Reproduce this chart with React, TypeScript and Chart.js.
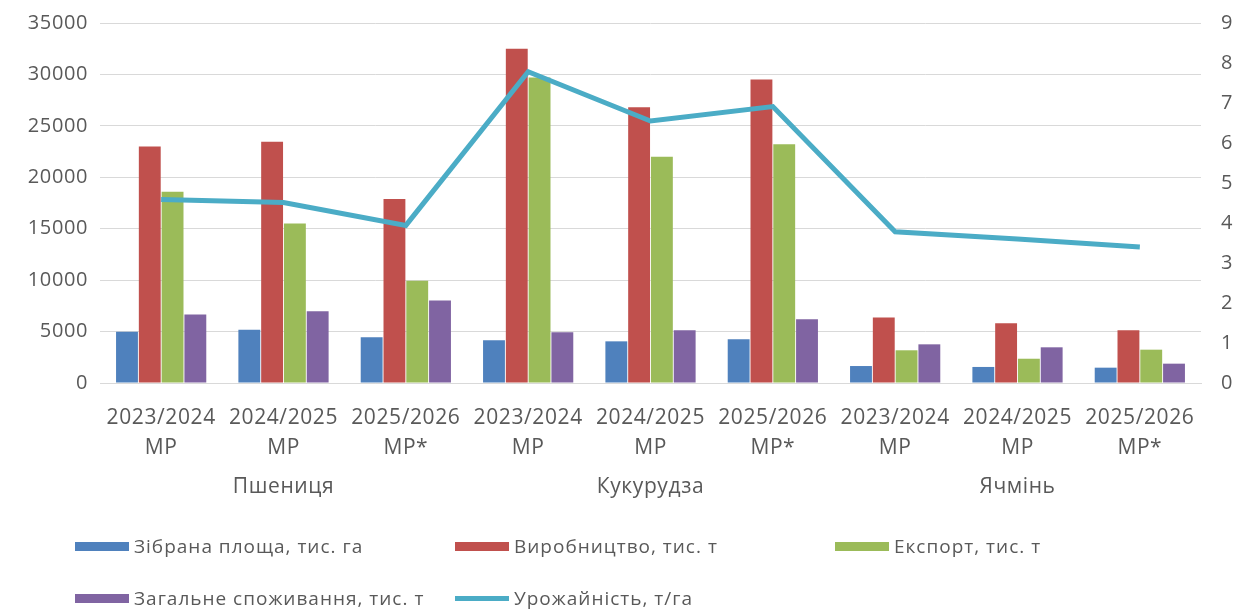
import React, { useEffect, useRef } from "react";
import { Chart, registerables } from "chart.js";

Chart.register(...registerables);

const categories: string[][] = [
  ["2023/2024", "МР"],
  ["2024/2025", "МР"],
  ["2025/2026", "МР*"],
  ["2023/2024", "МР"],
  ["2024/2025", "МР"],
  ["2025/2026", "МР*"],
  ["2023/2024", "МР"],
  ["2024/2025", "МР"],
  ["2025/2026", "МР*"],
];
const groups: string[] = ["Пшениця", "Кукурудза", "Ячмінь"];

const area: number[] = [4990, 5180, 4440, 4150, 4050, 4250, 1650, 1560, 1490];
const production: number[] = [23000, 23450, 17900, 32500, 26800, 29500, 6380, 5800, 5120];
const exportT: number[] = [18600, 15500, 9950, 29700, 22000, 23200, 3180, 2360, 3240];
const consumption: number[] = [6650, 6970, 8030, 4930, 5120, 6190, 3760, 3470, 1880];
const yieldT: number[] = [4.59, 4.51, 3.94, 7.78, 6.55, 6.91, 3.78, 3.6, 3.4];

const seriesNames: string[] = [
  "Зібрана площа, тис. га",
  "Виробництво, тис. т",
  "Експорт, тис. т",
  "Загальне споживання, тис. т",
  "Урожайність, т/га",
];
const seriesColors: string[] = ["#4F81BD", "#C0504D", "#9BBB59", "#8064A2", "#4BACC6"];

const leftTicks: number[] = [0, 5000, 10000, 15000, 20000, 25000, 30000, 35000];
const rightTicks: number[] = [0, 1, 2, 3, 4, 5, 6, 7, 8, 9];

const FONT = "'Open Sans', 'DejaVu Sans', sans-serif";
const TEXT = "#595959";

const spacingPlugin = {
  id: "letterSpacing",
  beforeUpdate(chart: any) {
    try {
      chart.ctx.letterSpacing = "0.6px";
    } catch (e) {}
  },
  beforeDraw(chart: any) {
    try {
      chart.ctx.letterSpacing = "0.6px";
    } catch (e) {}
  },
};

export default function App() {
  const ref = useRef<HTMLCanvasElement | null>(null);

  useEffect(() => {
    if (!ref.current) return;
    const barValues = [area, production, exportT, consumption];
    const chart = new Chart(ref.current, {
      type: "bar",
      plugins: [spacingPlugin],
      data: {
        labels: categories,
        datasets: [
          {
            type: "line",
            label: seriesNames[4],
            data: yieldT,
            yAxisID: "y1",
            borderColor: seriesColors[4],
            backgroundColor: seriesColors[4],
            borderWidth: 5,
            pointRadius: 0,
            tension: 0,
            order: 0,
          } as any,
          ...barValues.map((vals, i) => ({
            type: "bar" as const,
            label: seriesNames[i],
            data: vals,
            backgroundColor: seriesColors[i],
            borderWidth: 0,
            yAxisID: "y",
            order: 1,
            categoryPercentage: 0.745,
            barPercentage: 0.96,
          })),
        ],
      },
      options: {
        responsive: false,
        animation: false,
        devicePixelRatio: 1,
        layout: { padding: { top: 23, bottom: 101, left: 0, right: 0 } },
        plugins: {
          legend: { display: false },
          tooltip: { enabled: false },
        },
        scales: {
          x: {
            type: "category",
            position: "bottom",
            weight: 0,
            grid: { display: false, drawTicks: false },
            border: { display: true, color: "#d9d9d9" },
            ticks: {
              color: TEXT,
              font: { family: FONT, size: 21, lineHeight: 1.43 },
              padding: 20,
              maxRotation: 0,
              autoSkip: false,
            },
            afterFit: (s: any) => {
              s.height = 75;
            },
          },
          groups: {
            type: "category",
            position: "bottom",
            weight: 1,
            labels: groups,
            offset: true,
            grid: { display: false, drawTicks: false },
            border: { display: false },
            ticks: {
              color: TEXT,
              font: { family: FONT, size: 21, lineHeight: 1.2 },
              padding: 16,
              maxRotation: 0,
              autoSkip: false,
            },
            afterFit: (s: any) => {
              s.height = 50;
            },
          },
          y: {
            type: "linear",
            position: "left",
            min: 0,
            max: 35000,
            afterBuildTicks: (s: any) => {
              s.ticks = leftTicks.map((v) => ({ value: v }));
            },
            grid: { color: "#d9d9d9", lineWidth: 1, drawTicks: false },
            border: { display: false },
            ticks: {
              color: TEXT,
              font: { family: FONT, size: 20 },
              padding: 12,
              callback: (v: any) => String(v),
            },
            afterFit: (s: any) => {
              s.width = 100;
              s.paddingTop = 0;
              s.paddingBottom = 0;
            },
          },
          y1: {
            type: "linear",
            position: "right",
            min: 0,
            max: 9,
            afterBuildTicks: (s: any) => {
              s.ticks = rightTicks.map((v) => ({ value: v }));
            },
            grid: { display: false, drawTicks: false },
            border: { display: false },
            ticks: {
              color: TEXT,
              font: { family: FONT, size: 20 },
              padding: 20,
              callback: (v: any) => String(v),
            },
            afterFit: (s: any) => {
              s.width = 37;
              s.paddingTop = 0;
              s.paddingBottom = 0;
            },
          },
        },
      },
    });
    return () => chart.destroy();
  }, []);

  const legendPos = [
    { left: 75, top: 546 },
    { left: 455, top: 546 },
    { left: 835, top: 546 },
    { left: 75, top: 598 },
    { left: 455, top: 598 },
  ];

  return (
    <div style={{ position: "absolute", left: 0, top: 0, width: 1238, height: 609, background: "#fff" }}>
      <canvas ref={ref} width={1238} height={609} style={{ display: "block" }} />
      {seriesNames.map((name, i) => (
        <div
          key={name}
          style={{
            position: "absolute",
            left: legendPos[i].left,
            top: legendPos[i].top - 13,
            height: 26,
            display: "flex",
            alignItems: "center",
            fontFamily: FONT,
            fontSize: 19,
            letterSpacing: "1px",
            color: TEXT,
            whiteSpace: "nowrap",
          }}
        >
          <span
            style={{
              display: "inline-block",
              width: 54,
              height: i === 4 ? 5 : 9,
              background: seriesColors[i],
              marginRight: 5,
            }}
          />
          {name}
        </div>
      ))}
    </div>
  );
}
